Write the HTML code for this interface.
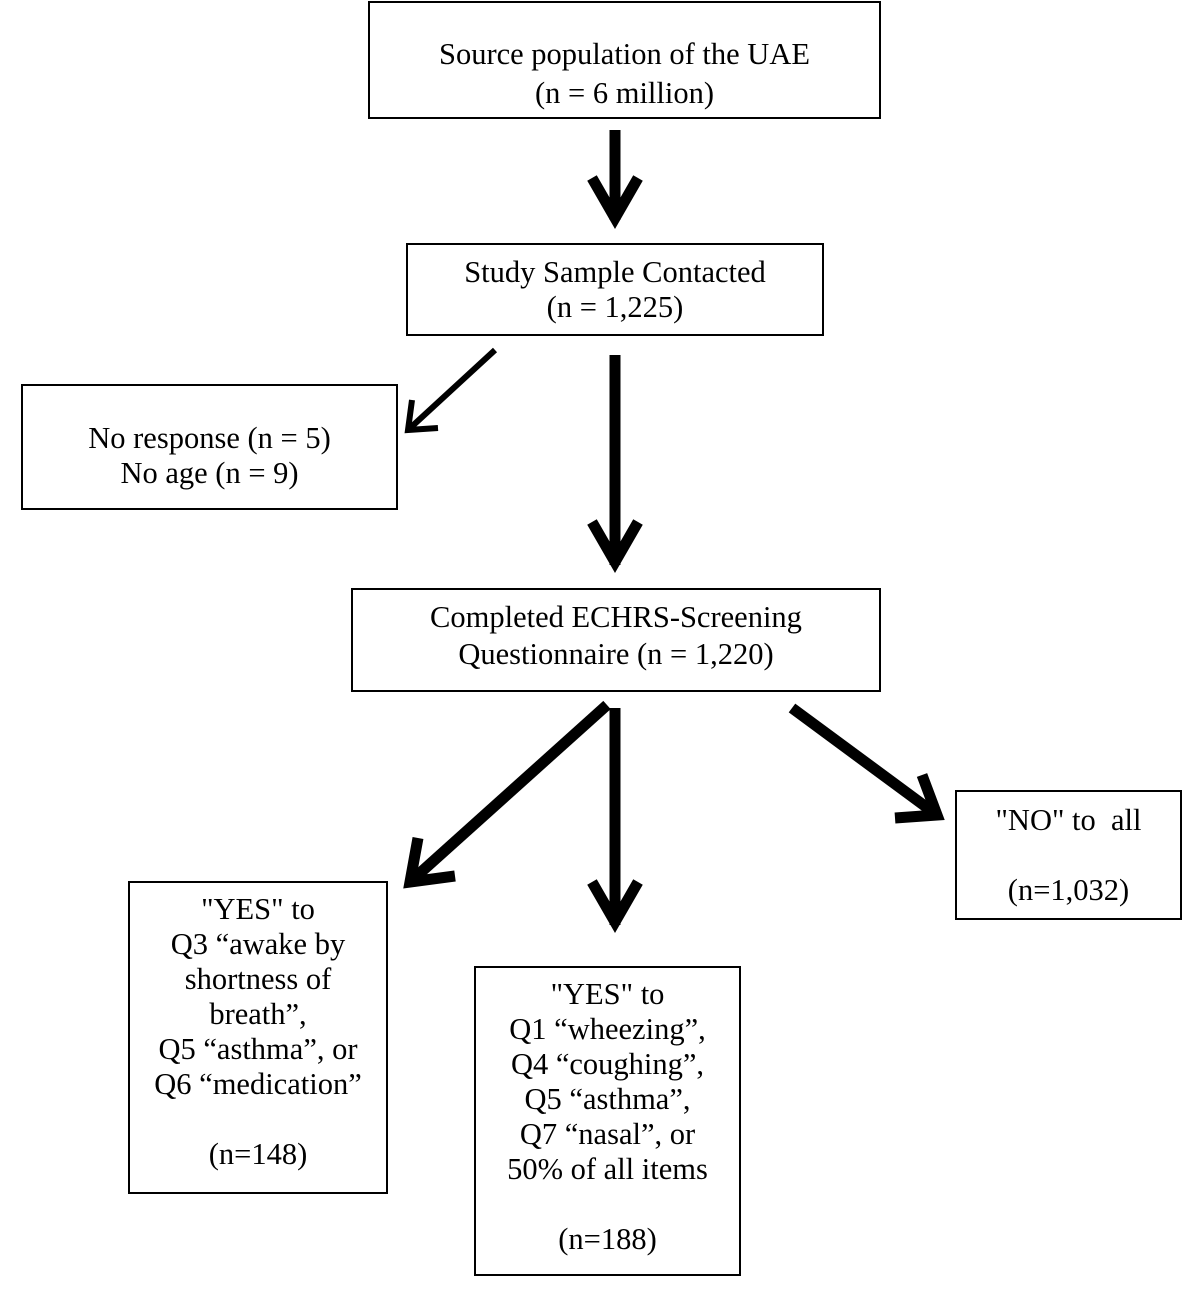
<!DOCTYPE html>
<html><head><style>
html,body{margin:0;padding:0;background:#fff;}
body{width:1200px;height:1301px;position:relative;overflow:hidden;font-family:"Liberation Serif",serif;}
.b{position:absolute;border:2px solid #000;box-sizing:border-box;background:#fff;}
.t{position:absolute;left:-20px;right:-20px;text-align:center;font-size:30.5px;line-height:35px;white-space:nowrap;}
svg{position:absolute;left:0;top:0;}
</style></head><body>
<svg width="1200" height="1301" viewBox="0 0 1200 1301">
<g stroke="#000" stroke-width="11" fill="none" stroke-linecap="butt" stroke-linejoin="miter">
<line x1="615" y1="130" x2="615" y2="220"/>
<polyline points="592,178 615,218 638,178"/>
<line x1="615" y1="355" x2="615" y2="565"/>
<polyline points="592,522 615,562 638,522"/>
<line x1="615" y1="708" x2="615" y2="925"/>
<polyline points="592,882 615,922 638,882"/>
<line x1="607" y1="705" x2="410" y2="882"/>
<polyline points="418,838 410,882 455,876"/>
<line x1="792" y1="708" x2="937" y2="815"/>
<polyline points="895,818 937,815 922,775"/>
</g>
<g stroke="#000" stroke-width="6" fill="none">
<line x1="495" y1="350" x2="408" y2="430"/>
<polyline points="412,400 408,430 438,428"/>
</g>
</svg>
<div class="b" style="left:368px;top:1px;width:513px;height:118px;">
<div class="t" style="top:34px;">Source population of the UAE</div>
<div class="t" style="top:73px;">(n = 6 million)</div></div>
<div class="b" style="left:406px;top:243px;width:418px;height:93px;">
<div class="t" style="top:10px;">Study Sample Contacted</div>
<div class="t" style="top:45px;">(n = 1,225)</div></div>
<div class="b" style="left:21px;top:384px;width:377px;height:126px;">
<div class="t" style="top:35px;">No response (n = 5)</div>
<div class="t" style="top:70px;">No age (n = 9)</div></div>
<div class="b" style="left:351px;top:588px;width:530px;height:104px;">
<div class="t" style="top:10px;">Completed ECHRS-Screening</div>
<div class="t" style="top:47px;">Questionnaire (n = 1,220)</div></div>
<div class="b" style="left:128px;top:881px;width:260px;height:313px;">
<div class="t" style="top:9px;">"YES" to<br>Q3 “awake by<br>shortness of<br>breath”,<br>Q5 “asthma”, or<br>Q6 “medication”<br><br>(n=148)</div></div>
<div class="b" style="left:474px;top:966px;width:267px;height:310px;">
<div class="t" style="top:9px;">"YES" to<br>Q1 “wheezing”,<br>Q4 “coughing”,<br>Q5 “asthma”,<br>Q7 “nasal”, or<br>50% of all items<br><br>(n=188)</div></div>
<div class="b" style="left:955px;top:790px;width:227px;height:130px;">
<div class="t" style="top:11px;">"NO" to&nbsp; all</div>
<div class="t" style="top:81px;">(n=1,032)</div></div>
</body></html>
